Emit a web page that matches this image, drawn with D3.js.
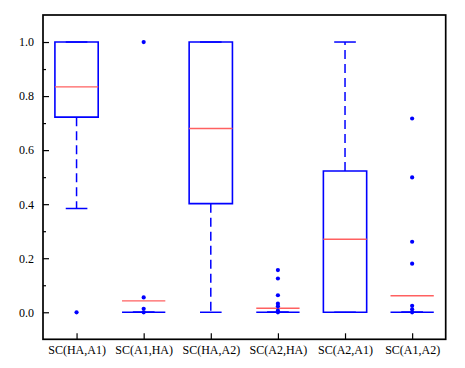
<!DOCTYPE html>
<html>
<head>
<meta charset="utf-8">
<script src="https://cdn.jsdelivr.net/npm/d3@7"></script>
<style>
  body { margin: 0; background: #fff; }
  text { font-family: "Liberation Serif", "Times New Roman", serif; }
</style>
</head>
<body>
<svg id="chart" width="465" height="368"></svg>
<script>
// chart values
const categories = ["SC(HA,A1)", "SC(A1,HA)", "SC(HA,A2)", "SC(A2,HA)", "SC(A2,A1)", "SC(A1,A2)"];
const q1 = [0.722, 0, 0.402, 0, 0, 0];
const q3 = [1.0, 0, 1.0, 0, 0.523, 0];
const medians = [0.834, 0.042, 0.680, 0.015, 0.270, 0.061];
const whiskerLow = [0.384, 0, 0, 0, 0, 0];
const whiskerHigh = [1.0, 0, 1.0, 0, 1.0, 0];
const outliers = [
  [0],
  [1.0, 0.055, 0.013, 0],
  [],
  [0.156, 0.125, 0.063, 0.032, 0.022, 0.006, 0],
  [],
  [0.717, 0.499, 0.261, 0.180, 0.024, 0.011, 0]
];
const majorTicks = [0, 0.2, 0.4, 0.6, 0.8, 1.0];
const minorTicks = [0.1, 0.3, 0.5, 0.7, 0.9];

const blue = "#0000ff";
const red = "#ff6060";

const plotLeft = 43, plotRight = 445.7, plotTop = 15, plotBottom = 339.3;

const svg = d3.select("#chart");

const x = d3.scalePoint()
  .domain(categories)
  .range([plotLeft, plotRight])
  .padding(0.5);

const y = d3.scaleLinear()
  .domain([-0.1, 1.1])
  .range([plotBottom, plotTop]);

const boxW = x.step() * 0.645;
const capW = boxW / 2;

// y axis, ticks pointing inwards
svg.append("g")
  .attr("transform", `translate(${plotLeft},0)`)
  .call(d3.axisLeft(y).tickValues(majorTicks).tickFormat(d3.format(".1f"))
    .tickSizeInner(-6).tickSizeOuter(0).tickPadding(9))
  .call(g => g.select(".domain").remove())
  .call(g => g.selectAll("line").attr("stroke", "#000").attr("stroke-width", 1.2))
  .call(g => g.selectAll("text").attr("font-size", 12).attr("fill", "#000")
    .style("font-family", "'Liberation Serif', serif"));

svg.append("g")
  .attr("transform", `translate(${plotLeft},0)`)
  .call(d3.axisLeft(y).tickValues(minorTicks).tickFormat("")
    .tickSizeInner(-3).tickSizeOuter(0))
  .call(g => g.select(".domain").remove())
  .call(g => g.selectAll("line").attr("stroke", "#000").attr("stroke-width", 1.2));

// x axis
svg.append("g")
  .attr("transform", `translate(0,${plotBottom})`)
  .call(d3.axisBottom(x).tickSizeInner(-6).tickSizeOuter(0).tickPadding(6.5))
  .call(g => g.select(".domain").remove())
  .call(g => g.selectAll("line").attr("stroke", "#000").attr("stroke-width", 1.2))
  .call(g => g.selectAll("text").attr("font-size", 12).attr("fill", "#000")
    .style("font-family", "'Liberation Serif', serif"));

// frame
svg.append("rect")
  .attr("x", plotLeft)
  .attr("y", plotTop)
  .attr("width", plotRight - plotLeft)
  .attr("height", plotBottom - plotTop)
  .attr("fill", "none")
  .attr("stroke", "#000")
  .attr("stroke-width", 1.7);

const boxes = svg.append("g")
  .selectAll("g")
  .data(categories)
  .join("g");

// whiskers
boxes.append("line")
  .attr("x1", d => x(d)).attr("x2", d => x(d))
  .attr("y1", (d, i) => y(q1[i])).attr("y2", (d, i) => y(whiskerLow[i]))
  .attr("stroke", blue).attr("stroke-width", 1.5).attr("stroke-dasharray", "9,5");

boxes.append("line")
  .attr("x1", d => x(d)).attr("x2", d => x(d))
  .attr("y1", (d, i) => y(q3[i])).attr("y2", (d, i) => y(whiskerHigh[i]))
  .attr("stroke", blue).attr("stroke-width", 1.5).attr("stroke-dasharray", "9,5");

// caps
boxes.append("line")
  .attr("x1", d => x(d) - capW / 2).attr("x2", d => x(d) + capW / 2)
  .attr("y1", (d, i) => y(whiskerLow[i])).attr("y2", (d, i) => y(whiskerLow[i]))
  .attr("stroke", blue).attr("stroke-width", 1.5);

boxes.append("line")
  .attr("x1", d => x(d) - capW / 2).attr("x2", d => x(d) + capW / 2)
  .attr("y1", (d, i) => y(whiskerHigh[i])).attr("y2", (d, i) => y(whiskerHigh[i]))
  .attr("stroke", blue).attr("stroke-width", 1.5);

// boxes
boxes.append("path")
  .attr("d", (d, i) => {
    const x0 = x(d) - boxW / 2, x1 = x(d) + boxW / 2;
    return `M${x0},${y(q3[i])}H${x1}V${y(q1[i])}H${x0}Z`;
  })
  .attr("fill", "none")
  .attr("stroke", blue)
  .attr("stroke-width", 1.6);

// medians
boxes.append("line")
  .attr("x1", d => x(d) - boxW / 2).attr("x2", d => x(d) + boxW / 2)
  .attr("y1", (d, i) => y(medians[i])).attr("y2", (d, i) => y(medians[i]))
  .attr("stroke", red).attr("stroke-width", 1.4);

// outliers
boxes.selectAll("circle")
  .data((d, i) => outliers[i].map(v => ({ cat: d, v: v })))
  .join("circle")
  .attr("cx", p => x(p.cat))
  .attr("cy", p => y(p.v))
  .attr("r", 2.1)
  .attr("fill", blue);
</script>
</body>
</html>
